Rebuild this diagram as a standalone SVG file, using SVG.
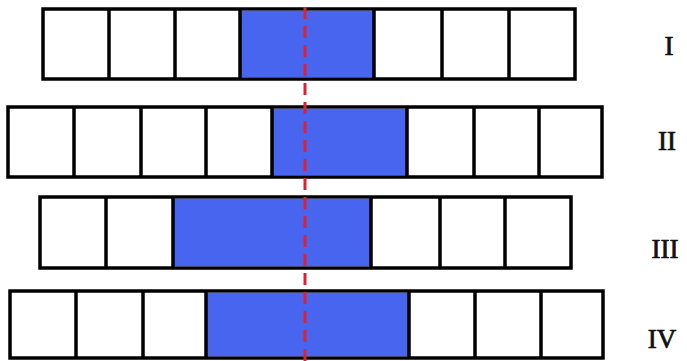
<svg xmlns="http://www.w3.org/2000/svg" width="687" height="361" viewBox="0 0 687 361">
<style>
.frame{fill:#ffffff;stroke:#000;stroke-width:3.5}
.blue{fill:#4865ef;stroke:none}
.div{stroke:#000;stroke-width:3.5}
.lbl{font-family:"Liberation Serif",serif;font-size:27px;fill:#111;stroke:#111;stroke-width:0.7;text-anchor:middle}
.axis{stroke:#e0202e;stroke-width:3;stroke-dasharray:12 7;fill:none}
</style>
<rect width="687" height="361" fill="#fff"/>
<g id="row-I">
<rect class="frame" x="43" y="9" width="532" height="70"/>
<rect class="blue" x="240" y="10.75" width="134" height="66.5"/>
<path class="div" d="M109 9V79M175 9V79M240 9V79M374 9V79M442 9V79M509 9V79"/>
<text class="lbl" x="669" y="55">I</text>
</g>
<g id="row-II">
<rect class="frame" x="8" y="107" width="594" height="70"/>
<rect class="blue" x="272" y="108.75" width="135" height="66.5"/>
<path class="div" d="M74 107V177M141 107V177M206 107V177M272 107V177M407 107V177M474 107V177M539 107V177"/>
<text class="lbl" x="667" y="150">II</text>
</g>
<g id="row-III">
<rect class="frame" x="40" y="197" width="531" height="71"/>
<rect class="blue" x="173" y="198.75" width="198" height="67.5"/>
<path class="div" d="M106 197V268M173 197V268M371 197V268M440 197V268M505 197V268"/>
<text class="lbl" x="665" y="258">III</text>
</g>
<g id="row-IV">
<rect class="frame" x="10" y="291" width="593" height="67"/>
<rect class="blue" x="206" y="292.75" width="203" height="63.5"/>
<path class="div" d="M76 291V358M143 291V358M206 291V358M409 291V358M475 291V358M541 291V358"/>
<text class="lbl" x="662" y="348">IV</text>
</g>
<g id="connectors">
<line class="axis" x1="305" y1="7" x2="305" y2="361"/>
</g>
</svg>
